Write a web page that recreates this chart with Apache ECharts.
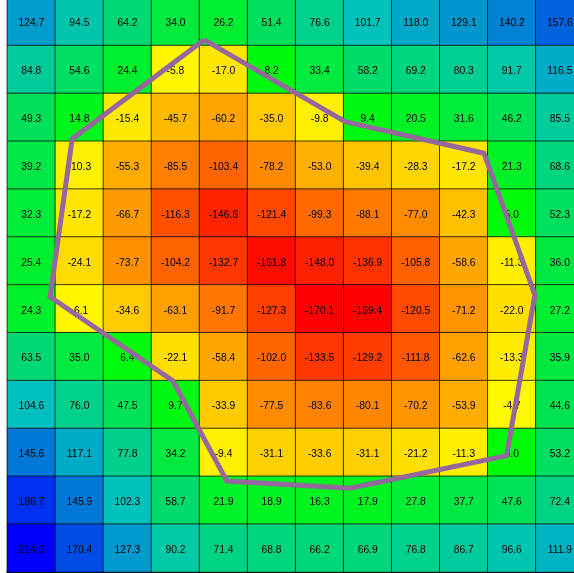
<!DOCTYPE html>
<html>
<head>
<meta charset="utf-8">
<script src="https://cdn.jsdelivr.net/npm/echarts@6/dist/echarts.min.js"></script>
<style>
  html, body { margin: 0; padding: 0; background: #ffffff; overflow: hidden; width: 574px; height: 573px; }
  #chart { position: absolute; left: 0; top: -3px; width: 600px; height: 580px; }
</style>
</head>
<body>
<div id="chart"></div>
<script>
// Column and row indices of the grid (row 0 is drawn at the top)
const columns = [0, 1, 2, 3, 4, 5, 6, 7, 8, 9, 10, 11];
const rows = [0, 1, 2, 3, 4, 5, 6, 7, 8, 9, 10, 11];

// Cell values, one array per row from top to bottom
const row0  = [124.7, 94.5, 64.2, 34.0, 26.2, 51.4, 76.6, 101.7, 118.0, 129.1, 140.2, 157.6];
const row1  = [84.8, 54.6, 24.4, -5.8, -17.0, 8.2, 33.4, 58.2, 69.2, 80.3, 91.7, 116.5];
const row2  = [49.3, 14.8, -15.4, -45.7, -60.2, -35.0, -9.8, 9.4, 20.5, 31.6, 46.2, 85.5];
const row3  = [39.2, -10.3, -55.3, -85.5, -103.4, -78.2, -53.0, -39.4, -28.3, -17.2, 21.3, 68.6];
const row4  = [32.3, -17.2, -66.7, -116.3, -146.6, -121.4, -99.3, -88.1, -77.0, -42.3, 5.0, 52.3];
const row5  = [25.4, -24.1, -73.7, -104.2, -132.7, -161.8, -148.0, -136.9, -105.8, -58.6, -11.3, 36.0];
const row6  = [24.3, -6.1, -34.6, -63.1, -91.7, -127.3, -170.1, -169.4, -120.5, -71.2, -22.0, 27.2];
const row7  = [63.5, 35.0, 6.4, -22.1, -58.4, -102.0, -133.5, -129.2, -111.8, -62.6, -13.3, 35.9];
const row8  = [104.6, 76.0, 47.5, 9.7, -33.9, -77.5, -83.6, -80.1, -70.2, -53.9, -4.7, 44.6];
const row9  = [145.6, 117.1, 77.8, 34.2, -9.4, -31.1, -33.6, -31.1, -21.2, -11.3, 4.0, 53.2];
const row10 = [186.7, 145.9, 102.3, 58.7, 21.9, 18.9, 16.3, 17.9, 27.8, 37.7, 47.6, 72.4];
const row11 = [214.0, 170.4, 127.3, 90.2, 71.4, 68.8, 66.2, 66.9, 76.8, 86.7, 96.6, 111.9];
const rowValues = [row0, row1, row2, row3, row4, row5, row6, row7, row8, row9, row10, row11];

// Outline polygon vertices in cell units (x = column, y = row)
const outlineX = [3.60, 6.53, 9.42, 10.48, 9.89, 6.63, 4.07, 2.95, 0.39, 0.85, 3.60];
const outlineY = [0.38, 2.09, 2.75, 5.71, 9.07, 9.75, 9.60, 7.51, 5.75, 2.45, 0.38];

// Colour scale: red -> yellow below zero, green -> teal -> blue above zero
const allValues = rowValues.flat();
const vMin = Math.min(...allValues);
const vMax = Math.max(...allValues);
function rgb(r, g, b) {
  return 'rgb(' + Math.round(r) + ',' + Math.round(g) + ',' + Math.round(b) + ')';
}
function cellColor(v) {
  if (v < 0) {
    const t = Math.max(0, Math.min(1, (v - vMin) / (0 - vMin)));
    return rgb(255, 255 * t, 0);
  }
  const mid = 105;
  if (v <= mid) {
    const t = v / mid;
    return rgb(0, 255 - 63 * t, 192 * t);
  }
  const t = Math.min(1, (v - mid) / (vMax - mid));
  return rgb(0, 192 * (1 - t), 192 + 63 * t);
}

const cells = [];
rows.forEach(function (r) {
  columns.forEach(function (c) {
    const v = rowValues[r][c];
    cells.push({ value: [c, r, v], itemStyle: { color: cellColor(v) } });
  });
});
const outline = outlineX.map(function (x, i) { return [x, outlineY[i]]; });

const gridBox = { left: 7.3, top: 0.7, width: 576.6, height: 574.3, containLabel: false, outerBoundsMode: 'none' };

const chart = echarts.init(document.getElementById('chart'), null, { renderer: 'canvas' });
chart.setOption({
  backgroundColor: '#ffffff',
  animation: false,
  grid: [
    Object.assign({}, gridBox),
    Object.assign({}, gridBox)
  ],
  xAxis: [
    {
      type: 'category', gridIndex: 0, data: columns, position: 'bottom',
      axisLine: { show: true, onZero: false, lineStyle: { color: '#000', width: 2 } },
      axisTick: { show: false }, axisLabel: { show: false },
      splitLine: { show: false }, splitArea: { show: false }
    },
    {
      type: 'value', gridIndex: 1, min: -0.5, max: 11.5,
      show: false, splitLine: { show: false }
    }
  ],
  yAxis: [
    {
      type: 'category', gridIndex: 0, data: rows, inverse: true, position: 'left',
      axisLine: { show: true, onZero: false, lineStyle: { color: '#000', width: 2 } },
      axisTick: { show: false }, axisLabel: { show: false },
      splitLine: { show: false }, splitArea: { show: false }
    },
    {
      type: 'value', gridIndex: 1, min: -0.5, max: 11.5, inverse: true,
      show: false, splitLine: { show: false }
    }
  ],
  series: [
    {
      type: 'heatmap',
      xAxisIndex: 0, yAxisIndex: 0,
      data: cells,
      itemStyle: { borderColor: 'rgba(0,0,0,0.72)', borderWidth: 1 },
      label: {
        show: true,
        color: '#000',
        fontSize: 10.3,
        offset: [0, 2],
        fontFamily: 'Liberation Sans, Arial, sans-serif',
        formatter: function (p) { return p.value[2].toFixed(1); }
      },
      emphasis: { disabled: true },
      z: 2
    },
    {
      type: 'line',
      xAxisIndex: 1, yAxisIndex: 1,
      data: outline,
      symbol: 'none',
      lineStyle: { color: '#95679d', width: 5, join: 'miter' },
      silent: true,
      z: 5
    }
  ]
});
</script>
</body>
</html>
